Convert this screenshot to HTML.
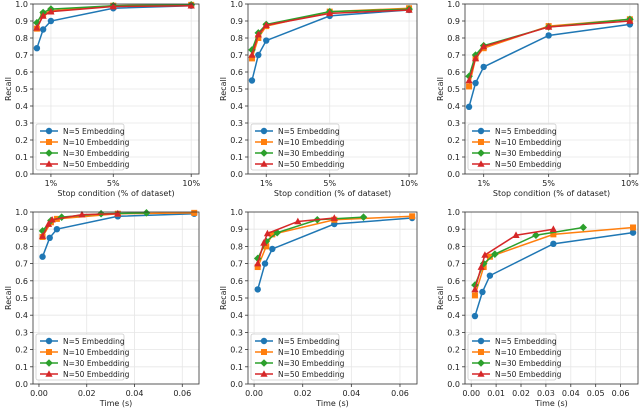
<!DOCTYPE html>
<html><head><meta charset="utf-8"><style>
html,body{margin:0;padding:0;background:#fff;}
svg{display:block;font-family:"DejaVu Sans","Liberation Sans",sans-serif;}
</style></head><body>
<svg id="chart" width="640" height="408" viewBox="0 0 640 408"></svg>
<script>
const seriesNames = ["N=5 Embedding","N=10 Embedding","N=30 Embedding","N=50 Embedding"];
const stopPct = [0.1,0.5,1,5,10];
const stopTicks = [1,5,10];
const stopTickLabels = ["1%","5%","10%"];
const timeN5 = [0.0015,0.0045,0.0075,0.033,0.065];
const timeN10 = [0.0015,0.005,0.0075,0.033,0.065];
const timeN30 = [0.0015,0.005,0.0095,0.026,0.045];
const timeN50 = [0.0015,0.004,0.0055,0.018,0.033];
const timeTicksA = [0,0.02,0.04,0.06];
const timeTicksB = [0,0.01,0.02,0.03,0.04,0.05,0.06];
const yTicks = [0,0.1,0.2,0.3,0.4,0.5,0.6,0.7,0.8,0.9,1.0];
const recallA = [[0.74,0.85,0.90,0.975,0.99],[0.855,0.94,0.96,0.99,0.995],[0.89,0.95,0.97,0.99,0.995],[0.86,0.93,0.955,0.985,0.99]];
const recallB = [[0.55,0.70,0.785,0.93,0.965],[0.68,0.80,0.87,0.955,0.975],[0.73,0.83,0.88,0.955,0.97],[0.70,0.82,0.875,0.945,0.965]];
const recallC = [[0.395,0.535,0.63,0.815,0.88],[0.515,0.68,0.74,0.87,0.91],[0.575,0.70,0.755,0.865,0.91],[0.55,0.68,0.75,0.865,0.90]];

const colors=["#1f77b4","#ff7f0e","#2ca02c","#d62728"];
const NS="http://www.w3.org/2000/svg";
const svg=document.getElementById('chart');
function mk(tag,attrs,parent){const e=document.createElementNS(NS,tag);for(const k in attrs)e.setAttribute(k,attrs[k]);(parent||svg).appendChild(e);return e;}
function marker(g,i,x,y){
  const c=colors[i];let m;
  if(i===0)m=mk('circle',{cx:x,cy:y,r:3.2,fill:c},g);
  else if(i===1)m=mk('rect',{x:x-3,y:y-3,width:6,height:6,fill:c},g);
  else if(i===2)m=mk('polygon',{points:`${x},${y-3.8} ${x+3.8},${y} ${x},${y+3.8} ${x-3.8},${y}`,fill:c},g);
  else m=mk('polygon',{points:`${x},${y-3.8} ${x+3.6},${y+2.8} ${x-3.6},${y+2.8}`,fill:c},g);
  
  
}
function panel(name,L,R,T,B,xmin,xmax,xs,ys,ticks,tickLabels,xlabel){
  const g=mk('g',{});
  
  
  const sx=v=>L+(v-xmin)/(xmax-xmin)*(R-L);
  const sy=v=>B-v*(B-T);
  for(const t of yTicks){const y=sy(t);
    mk('line',{x1:L,x2:R,y1:y,y2:y,stroke:'#e6e6e6','stroke-width':0.8},g);
    mk('line',{x1:L-3,x2:L,y1:y,y2:y,stroke:'#333','stroke-width':0.8},g);
    const tx=mk('text',{x:L-5,y:y+3,'font-size':8,'text-anchor':'end',fill:'#222'},g);tx.textContent=t.toFixed(1);
    }
  ticks.forEach((t,k)=>{const x=sx(t);
    mk('line',{x1:x,x2:x,y1:T,y2:B,stroke:'#e6e6e6','stroke-width':0.8},g);
    mk('line',{x1:x,x2:x,y1:B,y2:B+3,stroke:'#333','stroke-width':0.8},g);
    const tx=mk('text',{x:x,y:B+12,'font-size':8,'text-anchor':'middle',fill:'#222'},g);tx.textContent=tickLabels[k];
    });
  for(let i=0;i<4;i++){
    const xv=xs[i],yv=ys[i];
    const pts=xv.map((v,j)=>sx(v)+','+sy(yv[j])).join(' ');
    const pl=mk('polyline',{points:pts,fill:'none',stroke:colors[i],'stroke-width':1.5},g);
    
    xv.forEach((v,j)=>marker(g,i,sx(v),sy(yv[j])));
  }
  mk('rect',{x:L,y:T,width:R-L,height:B-T,fill:'none',stroke:'#333','stroke-width':0.8},g);
  const yl=mk('text',{x:0,y:0,'font-size':8,'text-anchor':'middle',fill:'#222',transform:`translate(${L-22},${(T+B)/2}) rotate(-90)`},g);yl.textContent='Recall';
  
  const xl=mk('text',{x:(L+R)/2,y:B+22,'font-size':8,'text-anchor':'middle',fill:'#222'},g);xl.textContent=xlabel;
  
  // legend
  const lg=mk('g',{},g);
  
  const lx=L+3,ly=B-50;
  mk('rect',{x:lx,y:ly,width:88,height:46,rx:2,fill:'#fff','fill-opacity':0.85,stroke:'#ccc','stroke-width':0.8},lg);
  for(let i=0;i<4;i++){const yy=ly+7+i*11;
    mk('line',{x1:lx+4,x2:lx+22,y1:yy,y2:yy,stroke:colors[i],'stroke-width':1.5},lg);
    marker(lg,i,lx+13,yy);
    const t=mk('text',{x:lx+27,y:yy+3,'font-size':7.5,fill:'#222'},lg);t.textContent=seriesNames[i];
    }
}
const stopX=[stopPct,stopPct,stopPct,stopPct];
const timeX=[timeN5,timeN10,timeN30,timeN50];
const cols=[[33,199],[248,417],[465,638]];
const recs=[recallA,recallB,recallC];
cols.forEach((c,k)=>panel('stop-panel-'+(k+1),c[0],c[1],4,174,-0.15,10.5,stopX,recs[k],stopTicks,stopTickLabels,'Stop condition (% of dataset)'));
cols.forEach((c,k)=>{
  const tt=k===2?timeTicksB:timeTicksA;
  panel('time-panel-'+(k+1),c[0],c[1],212,384,-0.0025,0.067,timeX,recs[k],tt,tt.map(v=>v.toFixed(2)),'Time (s)');
});
</script>
</body></html>
